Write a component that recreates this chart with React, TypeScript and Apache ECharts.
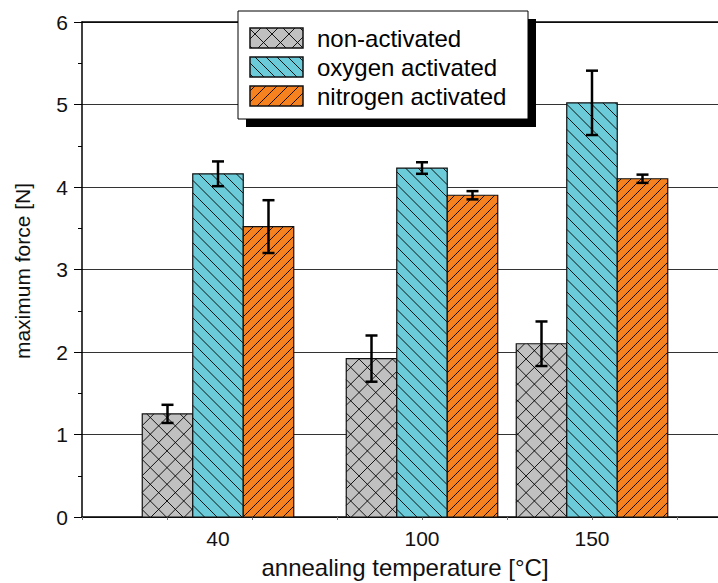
import React, { useEffect, useRef } from "react";
import * as echarts from "echarts";

// ---- data ----
const temperatures = [40, 100, 150];
const seriesNames = ["non-activated", "oxygen activated", "nitrogen activated"];
const nonActivated = [1.25, 1.92, 2.1];
const nonActivatedErr = [0.11, 0.28, 0.27];
const oxygenActivated = [4.16, 4.23, 5.02];
const oxygenActivatedErr = [0.15, 0.07, 0.39];
const nitrogenActivated = [3.52, 3.9, 4.1];
const nitrogenActivatedErr = [0.32, 0.05, 0.05];
const xTickLabels = [40, 100, 150];
const xTicks = [0, 25, 50, 75, 100, 125, 150, 175, 200];

// ---- styles ----
const FONT = 'Arial, "Liberation Sans", Helvetica, sans-serif';
const BAR_PX = 50.5;
const styles = [
  { fill: "#c0c0c0", dir: "cross", s: 16.7 },
  { fill: "#6ccbd8", dir: "back", s: 12.5 },
  { fill: "#f5821f", dir: "fwd", s: 10 },
];

function hatchSegments(x0: number, y0: number, x1: number, y1: number, s: number, dir: string) {
  const segs: number[][] = [];
  if (dir === "back" || dir === "cross") {
    const cmin = y0 - x1, cmax = y1 - x0;
    for (let c = Math.ceil(cmin / s) * s; c <= cmax; c += s) {
      const xa = Math.max(x0, y0 - c), xb = Math.min(x1, y1 - c);
      if (xb - xa > 0.3) segs.push([xa, xa + c, xb, xb + c]);
    }
  }
  if (dir === "fwd" || dir === "cross") {
    const cmin = x0 + y0, cmax = x1 + y1;
    for (let c = Math.ceil(cmin / s) * s; c <= cmax; c += s) {
      const xa = Math.max(x0, c - y1), xb = Math.min(x1, c - y0);
      if (xb - xa > 0.3) segs.push([xa, c - xa, xb, c - xb]);
    }
  }
  return segs;
}

function hatchedRectChildren(x0: number, y0: number, x1: number, y1: number, st: any, outline: number) {
  const ch: any[] = [];
  ch.push({ type: "rect", shape: { x: x0, y: y0, width: x1 - x0, height: y1 - y0 }, style: { fill: st.fill } });
  hatchSegments(x0, y0, x1, y1, st.s, st.dir).forEach((g) => {
    ch.push({ type: "line", shape: { x1: g[0], y1: g[1], x2: g[2], y2: g[3] }, style: { stroke: "#000", lineWidth: 0.9 } });
  });
  ch.push({
    type: "rect",
    shape: { x: x0, y: y0, width: x1 - x0, height: y1 - y0 },
    style: { fill: "none", stroke: "#111", lineWidth: outline },
  });
  return ch;
}

function makeRenderItem(k: number) {
  const st = styles[k + 1];
  return (params: any, api: any) => {
    const x = api.value(0), y = api.value(1), e = api.value(2);
    const base = api.coord([x, 0]);
    const top = api.coord([x, y]);
    const cx = base[0] + k * BAR_PX;
    const x0 = cx - BAR_PX / 2, x1 = cx + BAR_PX / 2;
    const children = hatchedRectChildren(x0, top[1], x1, base[1], st, 1.2);
    const hi = api.coord([x, y + e])[1];
    const lo = api.coord([x, y - e])[1];
    const es = { stroke: "#000", lineWidth: 2.5 };
    children.push({ type: "line", shape: { x1: cx, y1: hi, x2: cx, y2: lo }, style: es });
    children.push({ type: "line", shape: { x1: cx - 6, y1: hi, x2: cx + 6, y2: hi }, style: es });
    children.push({ type: "line", shape: { x1: cx - 6, y1: lo, x2: cx + 6, y2: lo }, style: es });
    return { type: "group", children };
  };
}

function buildLegend() {
  const els: any[] = [];
  els.push({ type: "rect", shape: { x: 246, y: 19, width: 290, height: 108 }, style: { fill: "#000" }, z: 100 });
  els.push({ type: "rect", shape: { x: 238, y: 11, width: 290, height: 108 }, style: { fill: "#fff", stroke: "#000", lineWidth: 1 }, z: 101 });
  const ys = [28, 57, 86];
  seriesNames.forEach((name, i) => {
    hatchedRectChildren(250, ys[i], 303, ys[i] + 20, { ...styles[i], s: i === 0 ? 17 : 11 }, 1.5).forEach((c) => {
      els.push({ ...c, z: 102 });
    });
    els.push({
      type: "text",
      z: 103,
      style: { text: name, x: 317, y: ys[i] + 10, fontSize: 24, fontFamily: FONT, fill: "#000", textAlign: "left", textVerticalAlign: "middle" },
    });
  });
  return els;
}

export default function App() {
  const ref = useRef<HTMLDivElement>(null);
  useEffect(() => {
    if (!ref.current) return;
    const chart = echarts.init(ref.current, null, { renderer: "svg" });
    const seriesData = [
      temperatures.map((t, i) => [t, nonActivated[i], nonActivatedErr[i]]),
      temperatures.map((t, i) => [t, oxygenActivated[i], oxygenActivatedErr[i]]),
      temperatures.map((t, i) => [t, nitrogenActivated[i], nitrogenActivatedErr[i]]),
    ];
    chart.setOption({
      animation: false,
      backgroundColor: "#fff",
      grid: { left: 82, right: 0, top: 22, bottom: 66, containLabel: false },
      xAxis: [
        {
          type: "value",
          position: "bottom",
          min: 0,
          max: 200,
          interval: 25,
          splitLine: { show: false },
          axisLine: { show: true, onZero: false, lineStyle: { color: "#000", width: 1.5 } },
          axisTick: { show: true, inside: false, length: 3, customValues: xTicks, lineStyle: { color: "#777" } },
          axisLabel: { customValues: xTickLabels, fontSize: 21, fontFamily: FONT, color: "#111", margin: 11 },
        },
        {
          type: "value",
          position: "top",
          min: 0,
          max: 200,
          splitLine: { show: false },
          axisLine: { show: true, onZero: false, lineStyle: { color: "#000", width: 1.5 } },
          axisTick: { show: false },
          axisLabel: { show: false },
        },
      ],
      yAxis: {
        type: "value",
        min: 0,
        max: 6,
        interval: 1,
        axisLine: { show: true, lineStyle: { color: "#000", width: 1.5 } },
        axisTick: { show: true, inside: false, length: 8, lineStyle: { color: "#000", width: 1 } },
        minorTick: { show: true, splitNumber: 2, length: 4, lineStyle: { color: "#000", width: 1 } },
        splitLine: { show: true, lineStyle: { color: "#333", width: 1 } },
        axisLabel: { fontSize: 21, fontFamily: FONT, color: "#111", margin: 14 },
      },
      series: seriesData.map((d, i) => ({
        type: "custom",
        name: seriesNames[i],
        xAxisIndex: 0,
        silent: true,
        encode: { x: 0, y: 1 },
        data: d,
        renderItem: makeRenderItem(i - 1),
        z: 5 + i,
      })),
      graphic: [
        ...buildLegend(),
        {
          type: "text",
          x: 22,
          y: 271,
          rotation: Math.PI / 2,
          style: { text: "maximum force [N]", fontSize: 21, fontFamily: FONT, fill: "#111", textAlign: "center", textVerticalAlign: "middle" },
        },
        {
          type: "text",
          x: 405,
          y: 567,
          style: { text: "annealing temperature [°C]", fontSize: 24, fontFamily: FONT, fill: "#111", textAlign: "center", textVerticalAlign: "middle" },
        },
      ],
    });
    return () => chart.dispose();
  }, []);
  return <div ref={ref} style={{ position: "fixed", left: 0, top: 0, width: 762, height: 583 }} />;
}
